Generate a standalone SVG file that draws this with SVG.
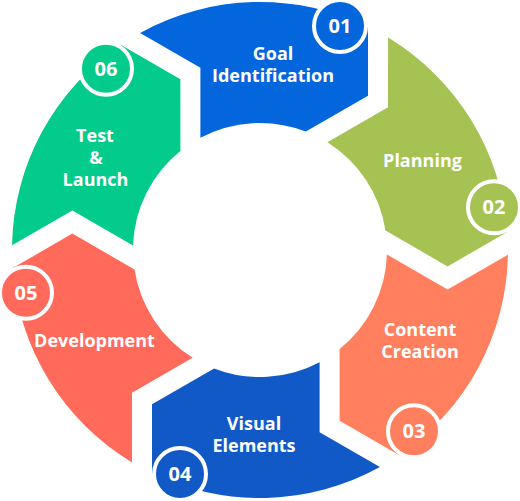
<svg xmlns="http://www.w3.org/2000/svg" width="520" height="501" viewBox="0 0 520 501">
  <defs>
    <path id="seg" d="M 140.1 32.9 A 248 248 0 0 1 368 26.8 L 368 95.7 L 305.9 131.6 A 127 127 0 0 0 200.4 137.8 L 200.4 67.8 Z"/>
  </defs>
  <style>
    .lbl { font-family: "Open Sans", "Liberation Sans", sans-serif; font-weight: 700; font-size: 18px; fill: #ffffff; text-anchor: middle; }
    .num { font-family: "Open Sans", "Liberation Sans", sans-serif; font-weight: 700; font-size: 20px; fill: #ffffff; text-anchor: middle; }
    .badge { stroke: #ffffff; stroke-width: 4; }
  </style>
  <rect width="520" height="501" fill="#ffffff"/>
  <g id="connectors"></g>
  <g id="node-01">
    <use href="#seg" fill="#0366DC"/>
    <circle class="badge" cx="340" cy="26" r="26" fill="#0366DC"/>
    <text class="num" x="340" y="33">01</text>
    <text class="lbl" x="273" y="60">Goal</text>
    <text class="lbl" x="273" y="82">Identification</text>
  </g>
  <g id="node-02">
    <use href="#seg" fill="#A5C253" transform="rotate(60 260 250)"/>
    <circle class="badge" cx="494" cy="207.3" r="26" fill="#A5C253"/>
    <text class="num" x="494" y="214.3">02</text>
    <text class="lbl" x="422.5" y="166.5">Planning</text>
  </g>
  <g id="node-03">
    <use href="#seg" fill="#FF7F5E" transform="rotate(120 260 250)"/>
    <circle class="badge" cx="414" cy="431.3" r="26" fill="#FF7F5E"/>
    <text class="num" x="414" y="438.3">03</text>
    <text class="lbl" x="420" y="335.5">Content</text>
    <text class="lbl" x="420" y="357.5">Creation</text>
  </g>
  <g id="node-04">
    <use href="#seg" fill="#1259C8" transform="rotate(180 260 250)"/>
    <circle class="badge" cx="180" cy="474" r="26" fill="#1259C8"/>
    <text class="num" x="180" y="481">04</text>
    <text class="lbl" x="254" y="430">Visual</text>
    <text class="lbl" x="254" y="452">Elements</text>
  </g>
  <g id="node-05">
    <use href="#seg" fill="#FF6A5A" transform="rotate(240 260 250)"/>
    <circle class="badge" cx="26" cy="292.7" r="26" fill="#FF6A5A"/>
    <text class="num" x="26" y="299.7">05</text>
    <text class="lbl" x="94.5" y="346.5">Development</text>
  </g>
  <g id="node-06">
    <use href="#seg" fill="#02CB8C" transform="rotate(300 260 250)"/>
    <circle class="badge" cx="106" cy="68.7" r="26" fill="#02CB8C"/>
    <text class="num" x="106" y="75.7">06</text>
    <text class="lbl" x="95" y="141.5">Test</text>
    <text class="lbl" x="96" y="163.5">&amp;</text>
    <text class="lbl" x="95.5" y="185.5">Launch</text>
  </g>
</svg>
